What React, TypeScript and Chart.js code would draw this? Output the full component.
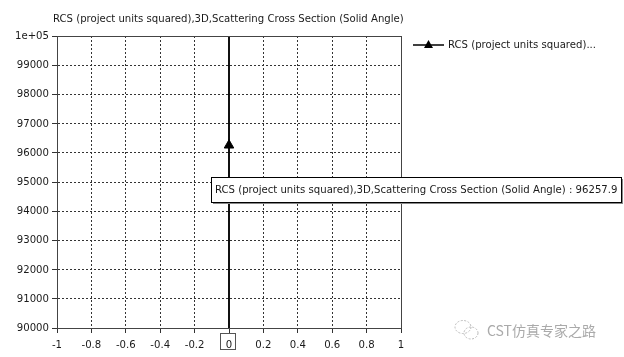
import React, { useEffect, useRef } from 'react';
import { Chart, registerables } from 'chart.js';

Chart.register(...registerables);

const chartTitle = 'RCS (project units squared),3D,Scattering Cross Section (Solid Angle)';
const seriesLabel = 'RCS (project units squared),3D,Scattering Cross Section (Solid Angle)';
const legendLabel = 'RCS (project units squared)...';
const xValues = [0];
const rcsValues = [96257.9];
const cursorX = 0;
const xTickLabels = ['-1', '-0.8', '-0.6', '-0.4', '-0.2', '0', '0.2', '0.4', '0.6', '0.8', '1'];
const yTickLabels = ['90000', '91000', '92000', '93000', '94000', '95000', '96000', '97000', '98000', '99000', '1e+05'];
const xRange = [-1, 1, 0.2];
const yRange = [90000, 100000, 1000];
const watermarkText = 'CST仿真专家之路';

const FONT = '"DejaVu Sans Condensed", "DejaVu Sans", sans-serif';
const TEXT = '#1a1a1a';

const overlayPlugin = {
  id: 'overlay',
  beforeDatasetsDraw(chart: any) {
    const { ctx, chartArea, scales } = chart;
    const x = Math.round(scales.x.getPixelForValue(cursorX));
    ctx.save();
    ctx.strokeStyle = '#111';
    ctx.lineWidth = 2;
    ctx.beginPath();
    ctx.moveTo(x, chartArea.top);
    ctx.lineTo(x, chartArea.bottom);
    ctx.stroke();
    ctx.restore();
  },
  afterDraw(chart: any) {
    const { ctx, chartArea, scales } = chart;
    ctx.save();
    // frame
    ctx.strokeStyle = '#444';
    ctx.lineWidth = 1;
    ctx.strokeRect(Math.round(chartArea.left) + 0.5, Math.round(chartArea.top) + 0.5,
      Math.round(chartArea.right - chartArea.left), Math.round(chartArea.bottom - chartArea.top));

    // title
    ctx.fillStyle = TEXT;
    ctx.font = `11.25px ${FONT}`;
    ctx.textAlign = 'left';
    ctx.textBaseline = 'middle';
    ctx.fillText(chartTitle, chartArea.left - 4, 19);

    // legend
    const ly = chartArea.top + 9;
    const lx = chartArea.right + 12;
    ctx.strokeStyle = '#000';
    ctx.lineWidth = 1.5;
    ctx.beginPath();
    ctx.moveTo(lx, ly);
    ctx.lineTo(lx + 31, ly);
    ctx.stroke();
    ctx.fillStyle = '#000';
    ctx.beginPath();
    ctx.moveTo(lx + 15.5, ly - 5);
    ctx.lineTo(lx + 20, ly + 3);
    ctx.lineTo(lx + 11, ly + 3);
    ctx.closePath();
    ctx.fill();
    ctx.fillStyle = TEXT;
    ctx.fillText(legendLabel, lx + 35, ly);

    // cursor tick label box
    const cx = scales.x.getPixelForValue(cursorX);
    ctx.strokeStyle = '#555';
    ctx.lineWidth = 1;
    ctx.strokeRect(Math.round(cx) - 8.5, chartArea.bottom + 5.5, 15, 16);

    // tooltip
    const meta = chart.getDatasetMeta(0);
    const pt = meta.data[0];
    const text = `${seriesLabel} : ${rcsValues[0]}`;
    ctx.font = `11.25px ${FONT}`;
    const tw = ctx.measureText(text).width;
    const bx = Math.round(pt.x) - 18;
    const by = Math.round(pt.y) + 32;
    const bw = Math.round(tw + 8);
    const bh = 25;
    ctx.fillStyle = '#888';
    ctx.fillRect(bx + 2, by + 2, bw, bh);
    ctx.fillStyle = '#fff';
    ctx.fillRect(bx, by, bw, bh);
    ctx.strokeStyle = '#000';
    ctx.strokeRect(bx + 0.5, by + 0.5, bw, bh);
    ctx.fillStyle = TEXT;
    ctx.textAlign = 'left';
    ctx.fillText(text, bx + 4, by + bh / 2 + 1);

    // watermark
    ctx.strokeStyle = '#bbb';
    ctx.lineWidth = 1;
    ctx.setLineDash([2, 1.5]);
    ctx.beginPath();
    ctx.ellipse(463, 327, 8, 6.5, 0, 0, Math.PI * 2);
    ctx.stroke();
    ctx.beginPath();
    ctx.ellipse(471, 333, 7, 6, 0, 0, Math.PI * 2);
    ctx.stroke();
    ctx.setLineDash([]);
    ctx.fillStyle = '#aaa';
    ctx.font = '14px "Noto Sans CJK SC", sans-serif';
    ctx.fillText(watermarkText, 487, 331);
    ctx.restore();
  },
};

export default function App() {
  const ref = useRef<HTMLCanvasElement | null>(null);
  useEffect(() => {
    document.body.style.margin = '0';
    const canvas = ref.current;
    if (!canvas) return;
    const chart = new Chart(canvas, {
      type: 'line',
      data: {
        datasets: [
          {
            label: seriesLabel,
            data: xValues.map((x, i) => ({ x, y: rcsValues[i] })),
            showLine: false,
            pointStyle: 'triangle',
            pointRadius: 5.5,
            backgroundColor: '#000',
            borderColor: '#000',
            borderWidth: 1,
          },
        ],
      },
      options: {
        animation: false,
        responsive: false,
        events: [],
        layout: { padding: { top: 36, right: 223, left: 0, bottom: 0 } },
        plugins: { legend: { display: false }, tooltip: { enabled: false }, title: { display: false } },
        scales: {
          x: {
            type: 'linear',
            min: xRange[0],
            max: xRange[1],
            afterFit: (s: any) => { s.height = 29; },
            afterBuildTicks: (s: any) => {
              s.ticks = xTickLabels.map((_, i) => ({ value: xRange[0] + i * xRange[2] }));
            },
            ticks: {
              autoSkip: false,
              maxRotation: 0,
              padding: 5,
              color: TEXT,
              font: { family: FONT, size: 11.25 },
              callback: (_v: any, i: number) => xTickLabels[i],
            },
            grid: { color: '#333', lineWidth: 1, tickLength: 5, tickColor: '#333' },
            border: { dash: [2, 2], color: '#333', width: 1 },
          },
          y: {
            type: 'linear',
            min: yRange[0],
            max: yRange[1],
            afterFit: (s: any) => { s.width = 57; },
            afterBuildTicks: (s: any) => {
              s.ticks = yTickLabels.map((_, i) => ({ value: yRange[0] + i * yRange[2] }));
            },
            ticks: {
              autoSkip: false,
              padding: 3,
              color: TEXT,
              font: { family: FONT, size: 11.25 },
              callback: (_v: any, i: number) => yTickLabels[i],
            },
            grid: { color: '#333', lineWidth: 1, tickLength: 5, tickColor: '#333' },
            border: { dash: [2, 2], color: '#333', width: 1 },
          },
        },
      },
      plugins: [overlayPlugin],
    } as any);
    return () => chart.destroy();
  }, []);
  return <canvas ref={ref} width={624} height={357} style={{ display: 'block', width: 624, height: 357 }} />;
}
